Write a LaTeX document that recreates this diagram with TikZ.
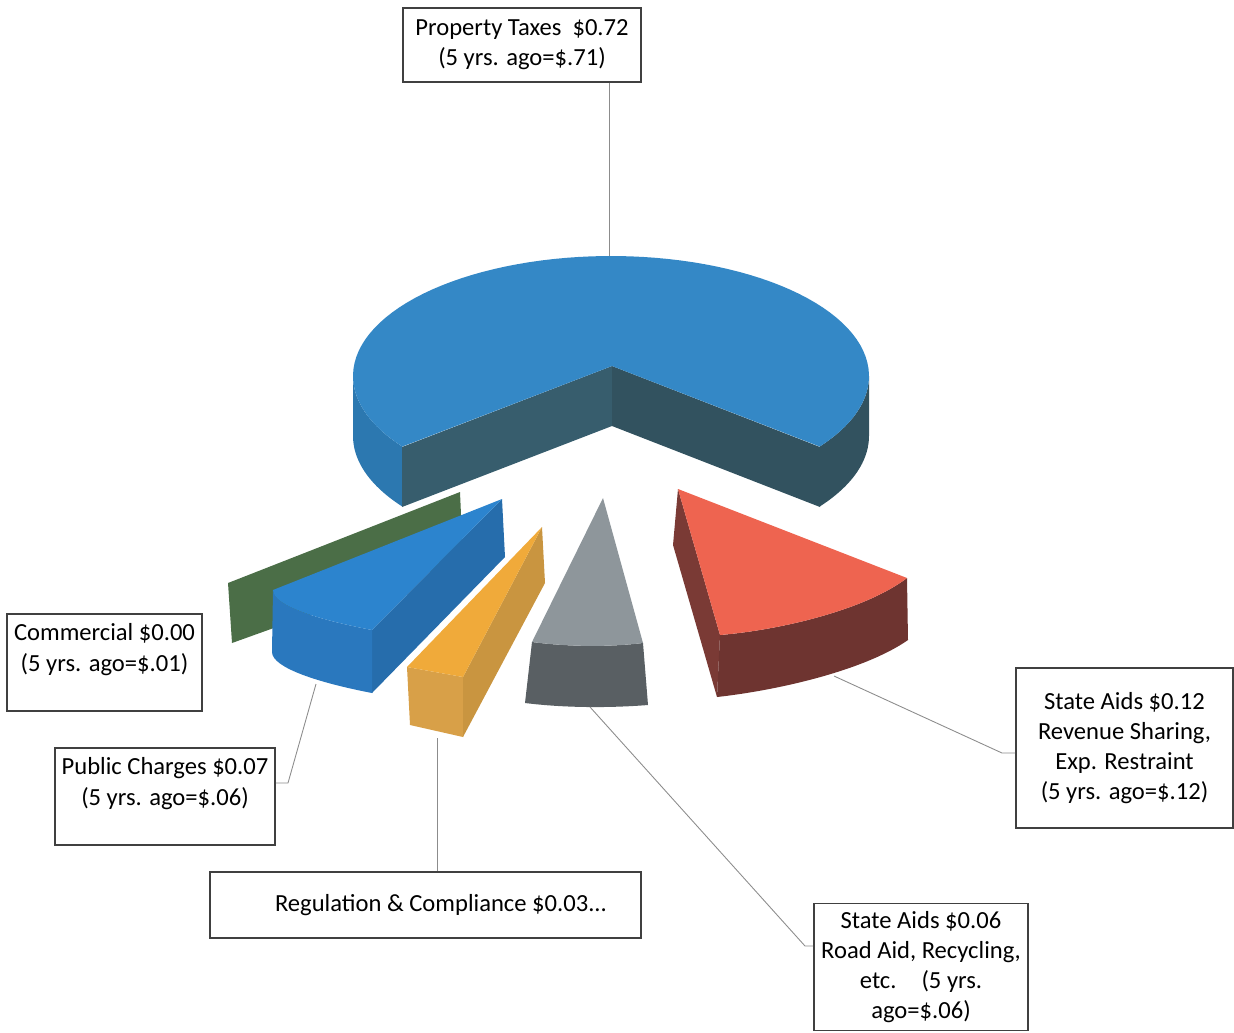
\documentclass[tikz,border=0pt]{standalone}
\usepackage{fontspec}
\setmainfont{Carlito}
\usepackage{xcolor}
\usetikzlibrary{calc}

\definecolor{propTop}{HTML}{3488C6}
\definecolor{propRim}{HTML}{2C78B0}
\definecolor{propCut}{HTML}{375D6D}
\definecolor{propCutR}{HTML}{32525F}
\definecolor{commFill}{HTML}{4B6E47}
\definecolor{pubTop}{HTML}{2C84CE}
\definecolor{pubFront}{HTML}{2A78BE}
\definecolor{pubSide}{HTML}{266DAC}
\definecolor{regTop}{HTML}{F0AA3A}
\definecolor{regFront}{HTML}{D8A048}
\definecolor{regSide}{HTML}{C99540}
\definecolor{roadTop}{HTML}{8E969B}
\definecolor{roadFront}{HTML}{595F63}
\definecolor{revTop}{HTML}{EE6450}
\definecolor{revSide}{HTML}{7A3A35}

\begin{document}
\begin{tikzpicture}[
    x=0.02cm, y=-0.02cm,
    font=\fontsize{14}{17.2}\selectfont,
    lbl/.style   ={rectangle, draw=black!75, line width=0.9pt, fill=white,
                   align=center, inner sep=0pt},
    leader/.style={draw=black!45, line width=0.5pt},
]
\useasboundingbox (0,0) rectangle (1234,1032);

% ---- Property taxes (main pie) ----
\fill[propRim] plot[domain=144:180, samples=20] ({611+258*cos(\x)},{376+120*sin(\x)})
   -- plot[domain=180:144, samples=20] ({611+258*cos(\x)},{436+120*sin(\x)}) -- cycle;
\fill[propCutR] plot[domain=0:36, samples=20] ({611+258*cos(\x)},{376+120*sin(\x)})
   -- plot[domain=36:0, samples=20] ({611+258*cos(\x)},{436+120*sin(\x)}) -- cycle;
\fill[propCut]  (612,366) -- (402,447) -- (402,507) -- (612,426) -- cycle;
\fill[propCutR] (612,366) -- (820,447) -- (820,507) -- (612,426) -- cycle;
\fill[propTop] (612,366) -- plot[domain=36:-216, samples=90] ({611+258*cos(\x)},{376+120*sin(\x)}) -- cycle;

% ---- Commercial ----
\fill[commFill] (228,583) -- (460,492) -- (463,560) -- (232,643) -- cycle;

% ---- Public charges ----
\fill[pubSide]  (502,499) -- (505,557) -- (372,693) -- (372,630) -- cycle;
\fill[pubFront] (273,590) .. controls (273,606) and (320,620) .. (372,630)
   -- (372,693) .. controls (320,683) and (272,668) .. (272,652) -- cycle;
\fill[pubTop]   (502,499) -- (273,590) .. controls (273,606) and (320,620) .. (372,630) -- cycle;

% ---- Regulation & compliance ----
\fill[regFront] (407,667) -- (463,677) -- (463,737) -- (410,725) -- cycle;
\fill[regSide]  (542,527) -- (545,583) -- (463,737) -- (463,677) -- cycle;
\fill[regTop]   (542,527) -- (463,677) -- (407,667) -- cycle;

% ---- State aids: road aid ----
\fill[roadFront] (532,642) .. controls (570,647) and (610,647) .. (643,643)
   -- (648,705) .. controls (610,708) and (565,708) .. (525,703) -- cycle;
\fill[roadTop]   (603,498) -- (643,643) .. controls (610,647) and (570,647) .. (532,642) -- cycle;

% ---- State aids: revenue sharing ----
\fill[revSide] (678,489) -- (673,545) -- (717,697) -- (720,635) -- cycle;
\fill[revSide!90!black] (720,635) .. controls (780,630) and (865,610) .. (907,578)
   -- (908,640) .. controls (865,670) and (780,690) .. (717,697) -- cycle;
\fill[revTop]  (678,489) -- (907,578) .. controls (865,610) and (780,630) .. (720,635) -- cycle;

% ---- Labels ----
\node[lbl, minimum width=4.76cm, minimum height=1.48cm] (propBox) at (522,45)
   {Property Taxes~~\$0.72\\(5 yrs. ago=\$.71)};
\node[lbl, minimum width=3.9cm, minimum height=1.94cm] (commBox) at (104.5,662.5)
   {Commercial \$0.00\\(5 yrs. ago=\$.01)\\~};
\node[lbl, minimum width=4.4cm, minimum height=1.94cm] (pubBox) at (165,796.5)
   {Public Charges \$0.07\\(5 yrs. ago=\$.06)\\~};
\node[lbl, minimum width=8.62cm, minimum height=1.32cm] (regBox) at (425.5,905)
   {\hspace*{0.62cm}Regulation \& Compliance \$0.03...};
\node[lbl, minimum width=4.28cm, minimum height=2.54cm] (roadBox) at (921,967)
   {State Aids \$0.06\\Road Aid, Recycling,\\etc.\hspace{0.5cm}(5 yrs.\\ago=\$.06)};
\node[lbl, minimum width=4.34cm, minimum height=3.2cm] (revBox) at (1124.5,748)
   {State Aids \$0.12\\Revenue Sharing,\\Exp. Restraint\\(5 yrs. ago=\$.12)};

% ---- Leader lines ----
\coordinate (propTip) at (609,256);
\coordinate (pubKnee) at (288,783);
\coordinate (pubTip)  at (316,684);
\coordinate (regTip)  at (437,738);
\coordinate (roadKnee) at (805,946);
\coordinate (roadTip) at (590,707);
\coordinate (revKnee) at (1002,753);
\coordinate (revTip)  at (834,676);

\draw[leader] (propBox.south -| propTip) -- (propTip);
\draw[leader] (pubBox.east |- pubKnee) -- (pubKnee) -- (pubTip);
\draw[leader] (regBox.north -| regTip) -- (regTip);
\draw[leader] (roadBox.west |- roadKnee) -- (roadKnee) -- (roadTip);
\draw[leader] (revBox.west |- revKnee) -- (revKnee) -- (revTip);

\end{tikzpicture}
\end{document}
